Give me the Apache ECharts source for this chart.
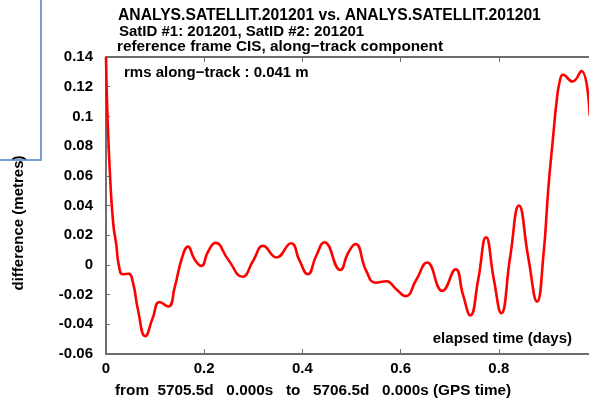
<!DOCTYPE html>
<html>
<head>
<meta charset="utf-8">
<script src="https://cdn.jsdelivr.net/npm/echarts@6/dist/echarts.min.js"></script>
<style>
  html, body { margin: 0; padding: 0; background: #ffffff; }
  #chart { width: 589px; height: 402px; }
</style>
</head>
<body>
<div id="chart"></div>
<script>
// Elapsed time (days) and along-track difference (metres)
const elapsedDays = [
  0.000, 0.003, 0.009, 0.015, 0.021, 0.026, 0.034, 0.046, 0.055, 0.065,
  0.080, 0.095, 0.109, 0.127, 0.140, 0.155, 0.167, 0.180, 0.194, 0.208,
  0.223, 0.248, 0.278, 0.300, 0.320, 0.347, 0.377, 0.394, 0.411, 0.428,
  0.445, 0.477, 0.493, 0.508, 0.530, 0.549, 0.571, 0.590, 0.610, 0.632,
  0.654, 0.685, 0.712, 0.727, 0.742, 0.758, 0.774, 0.790, 0.805, 0.823,
  0.841, 0.860, 0.878, 0.891, 0.901, 0.911, 0.917, 0.924, 0.931, 0.950,
  0.968, 0.985
];
const alongTrackDiff = [
  0.140, 0.100, 0.055, 0.027, 0.0135, 0.000, -0.0063, -0.0060, -0.012, -0.030,
  -0.048, -0.036, -0.025, -0.028, -0.015, 0.005, 0.0123, 0.004, -0.0007, 0.009,
  0.0148, 0.004, -0.008, 0.003, 0.0128, 0.005, 0.0146, 0.003, -0.0063, 0.006,
  0.0153, -0.0034, 0.008, 0.0141, -0.004, -0.012, -0.011, -0.016, -0.021, -0.010,
  0.0016, -0.0175, -0.003, -0.020, -0.034, -0.010, 0.0186, -0.010, -0.0325, 0.005,
  0.040, 0.005, -0.0247, 0.007, 0.052, 0.0875, 0.108, 0.1235, 0.128, 0.1235,
  0.1306, 0.101
];

const titleLines = [
  'ANALYS.SATELLIT.201201 vs. ANALYS.SATELLIT.201201',
  'SatID #1: 201201, SatID #2: 201201',
  'reference frame CIS, along\u2212track component'
];
const rmsText = 'rms along\u2212track : 0.041 m';
const xAxisTitle = 'elapsed time (days)';
const yAxisTitle = 'difference (metres)';
const timeSpanText = 'from  5705.5d   0.000s   to   5706.5d   0.000s (GPS time)';

const FONT = '"Liberation Sans", Arial, Helvetica, sans-serif';
const AXIS_GRAY = '#6e6e6e';

const points = elapsedDays.map((t, i) => [t, alongTrackDiff[i]]);

const chart = echarts.init(document.getElementById('chart'), null, { renderer: 'canvas' });

// plot frame runs a little past the right edge of the canvas
const gridBox = { left: 106, top: 57, width: 491, height: 297 };

function boldText(text, size, extra) {
  return Object.assign({
    type: 'text',
    style: { text: text, font: 'bold ' + size + 'px ' + FONT, fill: '#000000' }
  }, extra);
}

chart.setOption({
  animation: false,
  backgroundColor: '#ffffff',
  textStyle: { fontFamily: FONT },
  grid: Object.assign({ containLabel: false, outerBoundsMode: 'none' }, gridBox),
  xAxis: [
    {
      type: 'value',
      position: 'bottom',
      min: 0,
      max: 1,
      interval: 0.2,
      axisLine: { show: true, onZero: false, lineStyle: { color: AXIS_GRAY, width: 2 } },
      axisTick: { show: true, inside: true, length: 5, lineStyle: { color: AXIS_GRAY, width: 1 } },
      axisLabel: {
        margin: 7,
        fontFamily: FONT,
        fontSize: 15,
        fontWeight: 'bold',
        color: '#000000'
      },
      splitLine: { show: false }
    },
    {
      type: 'value',
      position: 'top',
      min: 0,
      max: 1,
      interval: 0.2,
      axisLine: { show: true, onZero: false, lineStyle: { color: AXIS_GRAY, width: 2 } },
      axisTick: { show: true, inside: true, length: 5, lineStyle: { color: AXIS_GRAY, width: 1 } },
      axisLabel: { show: false },
      splitLine: { show: false }
    }
  ],
  yAxis: {
    type: 'value',
    min: -0.06,
    max: 0.14,
    interval: 0.02,
    axisLine: { show: true, onZero: false, lineStyle: { color: AXIS_GRAY, width: 2 } },
    axisTick: { show: true, inside: true, length: 4, lineStyle: { color: AXIS_GRAY, width: 1 } },
    axisLabel: {
      margin: 13,
      fontFamily: FONT,
      fontSize: 15,
      fontWeight: 'bold',
      color: '#000000'
    },
    splitLine: { show: false }
  },
  series: [
    {
      type: 'line',
      xAxisIndex: 0,
      data: points,
      smooth: 0.5,
      showSymbol: false,
      clip: true,
      lineStyle: { color: '#ff0000', width: 2.6 }
    }
  ],
  graphic: [
    boldText(titleLines[0], 15.7, { left: 118, top: 8 }),
    boldText(titleLines[1], 15, { left: 119, top: 24 }),
    boldText(titleLines[2], 15.3, { left: 117, top: 39.5 }),
    boldText(rmsText, 15, { left: 124, top: 65 }),
    boldText(xAxisTitle, 15, { right: 17, top: 331 }),
    boldText(timeSpanText, 15.3, { left: 115, top: 383 }),
    {
      type: 'text',
      x: 19,
      y: 223,
      rotation: Math.PI / 2,
      style: {
        text: yAxisTitle,
        font: 'bold 15px ' + FONT,
        fill: '#000000',
        align: 'center',
        verticalAlign: 'middle'
      }
    },
    {
      type: 'polyline',
      shape: { points: [[0, 160], [41, 160], [41, 0]] },
      style: { stroke: '#4f7fc4', lineWidth: 1.5, fill: null }
    }
  ]
});
</script>
</body>
</html>
